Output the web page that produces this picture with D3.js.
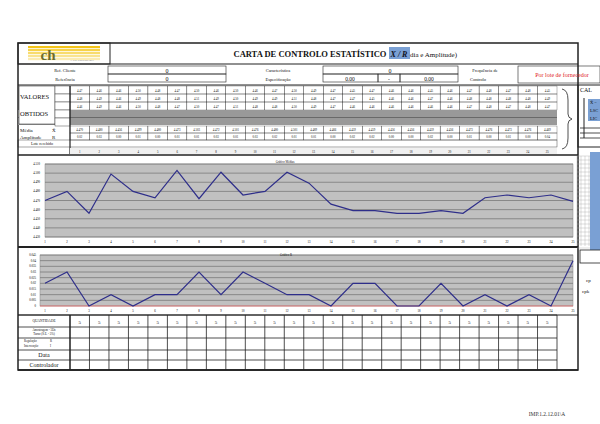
<!DOCTYPE html>
<html><head><meta charset="utf-8">
<script src="https://cdn.jsdelivr.net/npm/d3@7"></script>
<style>body{margin:0;background:#fff}text{font-family:"Liberation Serif",serif}</style>
</head><body>
<script>
var samples = d3.range(1, 26);
var leitura1 = [4.47,4.46,4.46,4.50,4.48,4.47,4.50,4.46,4.50,4.46,4.47,4.50,4.49,4.47,4.45,4.47,4.46,4.46,4.45,4.46,4.47,4.48,4.47,4.48,4.45];
var leitura2 = [4.48,4.49,4.46,4.49,4.48,4.48,4.51,4.49,4.50,4.49,4.49,4.51,4.48,4.47,4.47,4.45,4.46,4.46,4.47,4.46,4.48,4.48,4.48,4.48,4.49];
var leitura3 = [4.46,4.49,4.46,4.50,4.48,4.47,4.50,4.47,4.51,4.48,4.48,4.50,4.49,4.47,4.46,4.46,4.46,4.46,4.46,4.46,4.47,4.48,4.47,4.48,4.47];
var medias = [4.470,4.480,4.456,4.499,4.480,4.473,4.503,4.472,4.501,4.476,4.480,4.501,4.489,4.466,4.459,4.459,4.456,4.456,4.459,4.456,4.473,4.476,4.473,4.476,4.469];
var amplitudes = [0.02,0.03,0,0.01,0,0.01,0.01,0.03,0.01,0.03,0.02,0.01,0.01,0,0.02,0.02,0,0,0.02,0,0.01,0,0.01,0,0.04];
var quantidade = samples.map(function(){ return 5; });
var mediaTicks = [4.43,4.44,4.45,4.46,4.47,4.48,4.49,4.50,4.51];
var ampTicks = [0,0.005,0.01,0.015,0.02,0.025,0.03,0.035,0.04,0.045];

var svg = d3.select("body").append("svg").attr("width", 600).attr("height", 424);

function rect(x, y, w, h, fill, sw) {
  return svg.append("rect").attr("x", x).attr("y", y).attr("width", w).attr("height", h)
    .attr("fill", fill || "none").attr("stroke", "#222").attr("stroke-width", sw || 0.6);
}
function txt(x, y, s, size, anchor, color, weight) {
  return svg.append("text").attr("x", x).attr("y", y).text(s)
    .attr("font-size", size).attr("text-anchor", anchor || "start")
    .attr("fill", color || "#111").attr("font-weight", weight || "normal");
}
function line(x1, y1, x2, y2, sw, c) {
  svg.append("line").attr("x1", x1).attr("y1", y1).attr("x2", x2).attr("y2", y2)
    .attr("stroke", c || "#222").attr("stroke-width", sw || 0.6);
}

// header
rect(18, 43, 560, 327, "none", 1.5);
rect(18, 43, 92, 21, "none", 1);
line(18, 64, 578, 64, 1.2);
[0,1,2,3,4].forEach(function(i){
  svg.append("rect").attr("x", 28).attr("y", 46 + i * 3).attr("width", 72).attr("height", 2.2)
    .attr("fill", ["#f5c518","#f7d34a","#f8dc6e","#f9e490","#fbecb2"][i]);
});
txt(48, 60, "ch", 15, "middle", "#6b6b30", "bold");
txt(70, 61, "A. CH. ENGENHARIA", 2.5, "start", "#555");
txt(310, 57, "CARTA DE CONTROLO ESTATÍSTICO", 8.5, "middle", "#111", "bold");
svg.append("rect").attr("x", 389).attr("y", 47).attr("width", 21).attr("height", 12).attr("fill", "#7aa0d4");
txt(399, 57, "X / R", 8, "middle", "#112", "bold").attr("font-style", "italic");
txt(410, 57, "dia e Amplitude)", 7, "start");

// info rows
txt(65, 72, "Ref. Cliente", 4.5, "middle");
txt(65, 81, "Referência", 4.5, "middle");
rect(108, 66, 118, 8); rect(108, 74, 118, 8);
txt(167, 73, "0", 6, "middle"); txt(167, 81, "0", 6, "middle");
txt(278, 72, "Característica", 4.5, "middle");
txt(278, 81, "Especificação", 4.5, "middle");
rect(323, 66, 135, 8); txt(390, 73, "0", 6, "middle");
rect(323, 74, 55, 8); rect(378, 74, 22, 8); rect(400, 74, 58, 8);
txt(350, 81, "0.00", 5.5, "middle"); txt(389, 81, "-", 5.5, "middle"); txt(429, 81, "0.00", 5.5, "middle");
txt(485, 72, "Frequência de", 4.5, "middle");
txt(470, 81, "Controlo", 4.5, "start");
rect(518, 66, 82, 17);
txt(562, 77, "Por lote de fornecedor", 6, "middle", "#e02020");
line(18, 85, 578, 85, 1);

// value table
var tx = d3.scaleBand().domain(samples).range([70, 557]);
var rows = [leitura1, leitura2, leitura3];
rows.forEach(function(r, i){
  var y = 86 + i * 8;
  tx.domain().forEach(function(d, j){
    rect(tx(d), y, tx.bandwidth(), 8, "none", 0.3);
    txt(tx(d) + tx.bandwidth() / 2, y + 5.5, r[j].toFixed(2), 3, "middle");
  });
});
svg.append("rect").attr("x", 18).attr("y", 110).attr("width", 539).attr("height", 15).attr("fill", "#999");
line(18, 117.5, 557, 117.5, 0.4);
svg.append("rect").attr("x", 19).attr("y", 86).attr("width", 36).attr("height", 38).attr("fill", "#fff").attr("stroke", "#222").attr("stroke-width", 0.5);
txt(20, 99, "VALORES", 6.5); txt(20, 116, "OBTIDOS", 6.5);
[0,1,2,3,4].forEach(function(i){ rect(55, 86 + i * 8, 15, 8, "#fff", 0.4); });
line(70, 86, 70, 154, 1.2);
[["Média", "X̄", medias, 3], ["Amplitude", "R", amplitudes, 2]].forEach(function(m, i){
  var y = 126 + i * 7;
  txt(20, y + 5.5, m[0], 5); txt(52, y + 5.5, m[1], 5);
  tx.domain().forEach(function(d, j){
    rect(tx(d), y, tx.bandwidth(), 7, "none", 0.3);
    txt(tx(d) + tx.bandwidth() / 2, y + 5, m[2][j].toFixed(m[3]), 3, "middle");
  });
});
txt(42, 145, "Lote recebido", 4, "middle");
rect(18, 140, 539, 7, "none", 0.4);
svg.append("rect").attr("x", 70).attr("y", 148).attr("width", 487).attr("height", 6).attr("fill", "#f0f0f0");
tx.domain().forEach(function(d){ txt(tx(d) + tx.bandwidth() / 2, 153, d, 3, "middle"); });
line(18, 155, 578, 155, 1.5);

// brace and CAL box
svg.append("path").attr("d", "M562,89 Q568,90 568,100 L568,114 Q568,118 572,119 Q568,120 568,124 L568,138 Q568,148 562,149")
  .attr("fill", "none").attr("stroke", "#222").attr("stroke-width", 0.8);
rect(578, 85, 30, 62, "none", 1);
txt(580, 92, "CAL", 6);
svg.append("rect").attr("x", 588).attr("y", 99).attr("width", 12).attr("height", 22).attr("fill", "#7aa0d4");
line(584, 98, 584, 138, 1);
txt(590, 104, "X̄ =", 4.5); txt(590, 112, "LSC", 4.5); txt(590, 120, "LIC", 4.5);
line(580, 128, 600, 128, 0.8); line(580, 133, 600, 133, 0.8); line(580, 138, 600, 138, 0.8);

// means chart
var x = d3.scalePoint().domain(samples).range([45, 573]);
var y1 = d3.scaleLinear().domain([4.43, 4.51]).range([237, 164]);
svg.append("rect").attr("x", 45).attr("y", 164).attr("width", 528).attr("height", 73).attr("fill", "#c0c0c0").attr("stroke", "#888").attr("stroke-width", 0.5);
svg.append("g").selectAll("line").data(mediaTicks).join("line")
  .attr("x1", 45).attr("x2", 573).attr("y1", function(d){ return y1(d); }).attr("y2", function(d){ return y1(d); })
  .attr("stroke", "#7a7a7a").attr("stroke-width", 0.8);
svg.append("g").selectAll("text").data(mediaTicks).join("text")
  .attr("x", 40).attr("y", function(d){ return y1(d) + 1; }).attr("text-anchor", "end")
  .attr("font-size", 3).attr("font-family", "Liberation Sans").text(function(d){ return d.toFixed(3); });
svg.append("g").selectAll("text").data(samples).join("text")
  .attr("x", function(d){ return x(d); }).attr("y", 243).attr("text-anchor", "middle")
  .attr("font-size", 3).attr("font-family", "Liberation Sans").text(function(d){ return d; });
txt(285, 163, "Gráfico Médias", 3, "middle").attr("font-family", "Liberation Sans");
svg.append("path").datum(medias)
  .attr("d", d3.line().x(function(d, i){ return x(samples[i]); }).y(function(d){ return y1(d); }))
  .attr("fill", "none").attr("stroke", "#2e2e8a").attr("stroke-width", 1.2);
line(18, 247, 578, 247, 1.8);

// range chart
var y2 = d3.scaleLinear().domain([0, 0.045]).range([306, 255]);
svg.append("rect").attr("x", 40).attr("y", 255).attr("width", 533).attr("height", 51).attr("fill", "#c0c0c0").attr("stroke", "#888").attr("stroke-width", 0.5);
svg.append("g").selectAll("line").data(ampTicks).join("line")
  .attr("x1", 40).attr("x2", 573).attr("y1", function(d){ return y2(d); }).attr("y2", function(d){ return y2(d); })
  .attr("stroke", function(d){ return d === 0 ? "#e06060" : "#7a7a7a"; }).attr("stroke-width", 0.8);
svg.append("g").selectAll("text").data(ampTicks).join("text")
  .attr("x", 36).attr("y", function(d){ return y2(d) + 1; }).attr("text-anchor", "end")
  .attr("font-size", 3).attr("font-family", "Liberation Sans").text(function(d){ return d; });
svg.append("g").selectAll("text").data(samples).join("text")
  .attr("x", function(d){ return x(d); }).attr("y", 312).attr("text-anchor", "middle")
  .attr("font-size", 3).attr("font-family", "Liberation Sans").text(function(d){ return d; });
txt(286, 256, "Gráfico R", 3, "middle").attr("font-family", "Liberation Sans");
svg.append("path").datum(amplitudes)
  .attr("d", d3.line().x(function(d, i){ return x(samples[i]); }).y(function(d){ return y2(d); }))
  .attr("fill", "none").attr("stroke", "#2e2e8a").attr("stroke-width", 1.2);
line(18, 315, 578, 315, 1);

// right side strips
var hatch = svg.append("g");
d3.range(0, 24).forEach(function(i){ hatch.append("line").attr("x1", 577).attr("x2", 590).attr("y1", 156 + i * 4).attr("y2", 156 + i * 4).attr("stroke", "#aaa").attr("stroke-width", 0.4); });
d3.range(0, 4).forEach(function(i){ hatch.append("line").attr("x1", 577 + i * 4).attr("x2", 577 + i * 4).attr("y1", 156).attr("y2", 246).attr("stroke", "#aaa").attr("stroke-width", 0.4); });
svg.append("rect").attr("x", 590).attr("y", 152).attr("width", 10).attr("height", 98).attr("fill", "#7aa0d4");
rect(580, 250, 25, 13, "#fff", 0.8);
txt(586, 282, "cp", 5); txt(582, 293, "cpk", 5);

// bottom table
var bottomRows = [315, 327, 338, 350, 360, 370];
bottomRows.forEach(function(yy){ line(18, yy, 557, yy, 0.8); });
tx.domain().forEach(function(d){ line(tx(d), 315, tx(d), 370, 0.8); });
line(557, 315, 557, 370, 0.8);
line(70, 315, 70, 370, 1.2);
tx.domain().forEach(function(d, j){ txt(tx(d) + tx.bandwidth() / 2, 324, quantidade[j], 5, "middle"); });
txt(44, 322, "QUANTIDADE", 3.5, "middle");
txt(44, 331, "Amostragem - 5Un", 3, "middle"); txt(44, 335, "Turno (S.E. - 5%)", 3, "middle");
txt(24, 342, "Regulação", 3); txt(50, 342, "R", 3);
txt(24, 347, "Intervenção", 3); txt(50, 347, "I", 3);
txt(44, 357, "Data", 6, "middle");
txt(44, 367, "Controlador", 6, "middle");
line(18, 370, 578, 370, 1.5);

txt(547, 416, "IMP.1.2.12.01\\A", 5.5, "middle", "#333").attr("font-family", "Liberation Sans");
</script>
</body></html>
